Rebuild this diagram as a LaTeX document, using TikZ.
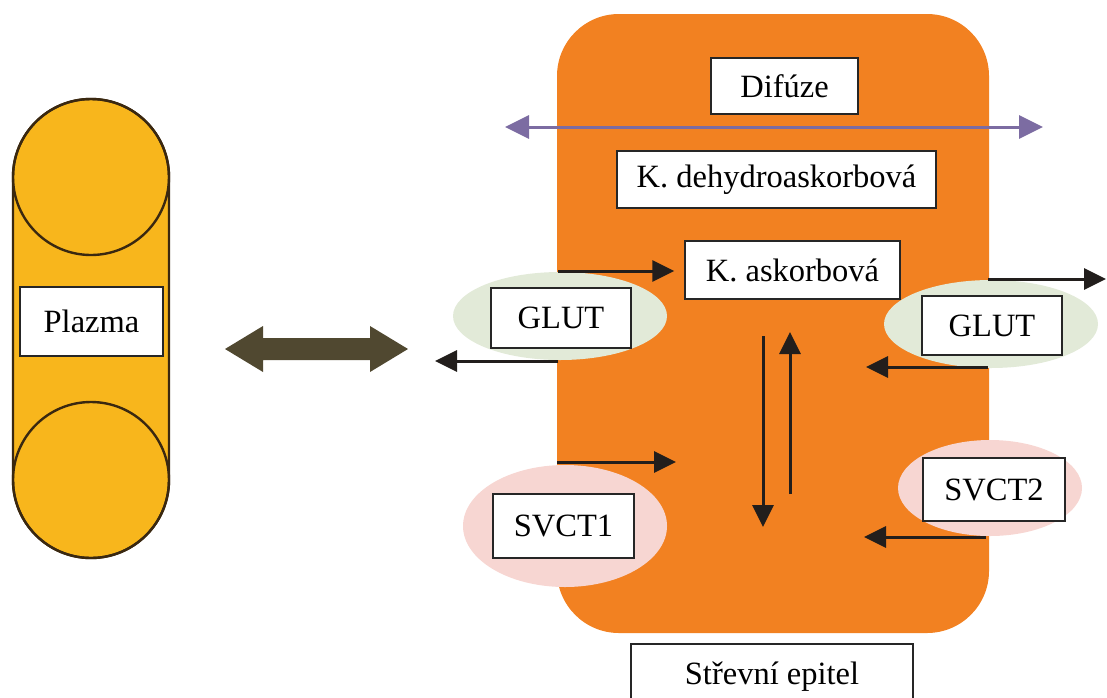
\documentclass[tikz,border=0pt]{standalone}
\usepackage{fontspec}
\setmainfont{Liberation Serif}
\usetikzlibrary{arrows.meta}
\definecolor{capsy}{RGB}{248,182,28}
\definecolor{capso}{RGB}{58,40,16}
\definecolor{epio}{RGB}{242,129,33}
\definecolor{glutc}{RGB}{226,234,216}
\definecolor{svctc}{RGB}{247,214,210}
\definecolor{purp}{RGB}{124,108,162}
\definecolor{olive}{RGB}{80,72,48}
\definecolor{arrc}{RGB}{34,30,28}
\begin{document}
\begin{tikzpicture}[x=1pt,y=-1pt,
  lbl/.style={draw=black!85, line width=1.5pt, fill=white, inner sep=0pt,
    font=\fontsize{32.5}{38}\selectfont, anchor=center},
  arr/.style={draw=arrc, line width=3pt, -{Triangle[length=22pt,width=21pt]}},
  difarr/.style={draw=purp, line width=3pt,
    {Triangle[length=24pt,width=23pt]}-{Triangle[length=24pt,width=23pt]}},
  capsule/.style={fill=capsy, draw=capso, line width=2.4pt}]
\useasboundingbox (0,0) rectangle (1107,697);
\clip (0,0) rectangle (1107,697);

% plasma capsule
\path[capsule] (13,177) arc[start angle=180, end angle=360, radius=78]
  -- (169,480) arc[start angle=0, end angle=180, radius=78] -- cycle;
\draw[capso, line width=2.4pt] (91,177) circle[radius=78];
\draw[capso, line width=2.4pt] (91,480) circle[radius=78];
\node[lbl, minimum width=143pt, minimum height=69pt] (plazma) at (91.5,321.5) {Plazma};

% exchange arrow
\fill[olive] (225,349) -- (263,326) -- (263,338) -- (370,338) -- (370,326)
  -- (408,349) -- (370,372) -- (370,360) -- (263,360) -- (263,372) -- cycle;

% epithelium
\fill[epio, rounded corners=62pt] (557,14) rectangle (989,633);

% transporters
\fill[glutc] (560,316) ellipse[x radius=107, y radius=44];
\fill[glutc] (991,324) ellipse[x radius=107, y radius=44];
\fill[svctc] (565,526) ellipse[x radius=102, y radius=61];
\fill[svctc] (990,488) ellipse[x radius=92, y radius=48];

% diffusion
\coordinate (dl) at (505,127);
\coordinate (dr) at (1043,127);
\draw[difarr] (dl) -- (dr);

\node[lbl, minimum width=147pt, minimum height=56pt] (difuze) at (784.5,86) {Difúze};
\node[lbl, minimum width=319pt, minimum height=57pt] (dehydro) at (776.5,179.5) {K. dehydroaskorbová};
\node[lbl, minimum width=215pt, minimum height=58pt] (askor) at (792.5,270) {K. askorbová};
\node[lbl, minimum width=140pt, minimum height=60pt] (glutl) at (561,318) {GLUT};
\node[lbl, minimum width=140pt, minimum height=59pt] (glutr) at (992,325.5) {GLUT};
\node[lbl, minimum width=141pt, minimum height=64pt] (svct1) at (563.5,526) {SVCT1};
\node[lbl, minimum width=142pt, minimum height=63pt] (svct2) at (994,489.5) {SVCT2};
\node[lbl, minimum width=282pt, minimum height=66pt] (epitel) at (772,677) {Střevní epitel};

% transport arrows
\coordinate (a1s) at (558,271);
\draw[arr, shorten >=10pt] (a1s) -- (askor.west |- a1s);
\coordinate (a2s) at (558,361);
\coordinate (a2e) at (435,361);
\draw[arr] (a2s) -- (a2e);
\coordinate (a3s) at (988,279);
\coordinate (a3e) at (1106,279);
\draw[arr] (a3s) -- (a3e);
\coordinate (a4s) at (988,367);
\coordinate (a4e) at (866,367);
\draw[arr] (a4s) -- (a4e);
\coordinate (a5s) at (557,462);
\coordinate (a5e) at (676,462);
\draw[arr] (a5s) -- (a5e);
\coordinate (a6s) at (986,537);
\coordinate (a6e) at (864,537);
\draw[arr] (a6s) -- (a6e);
\coordinate (dns) at (763,336);
\coordinate (dne) at (763,527);
\draw[arr] (dns) -- (dne);
\coordinate (ups) at (790,494);
\coordinate (upe) at (790,332);
\draw[arr] (ups) -- (upe);
\end{tikzpicture}
\end{document}
